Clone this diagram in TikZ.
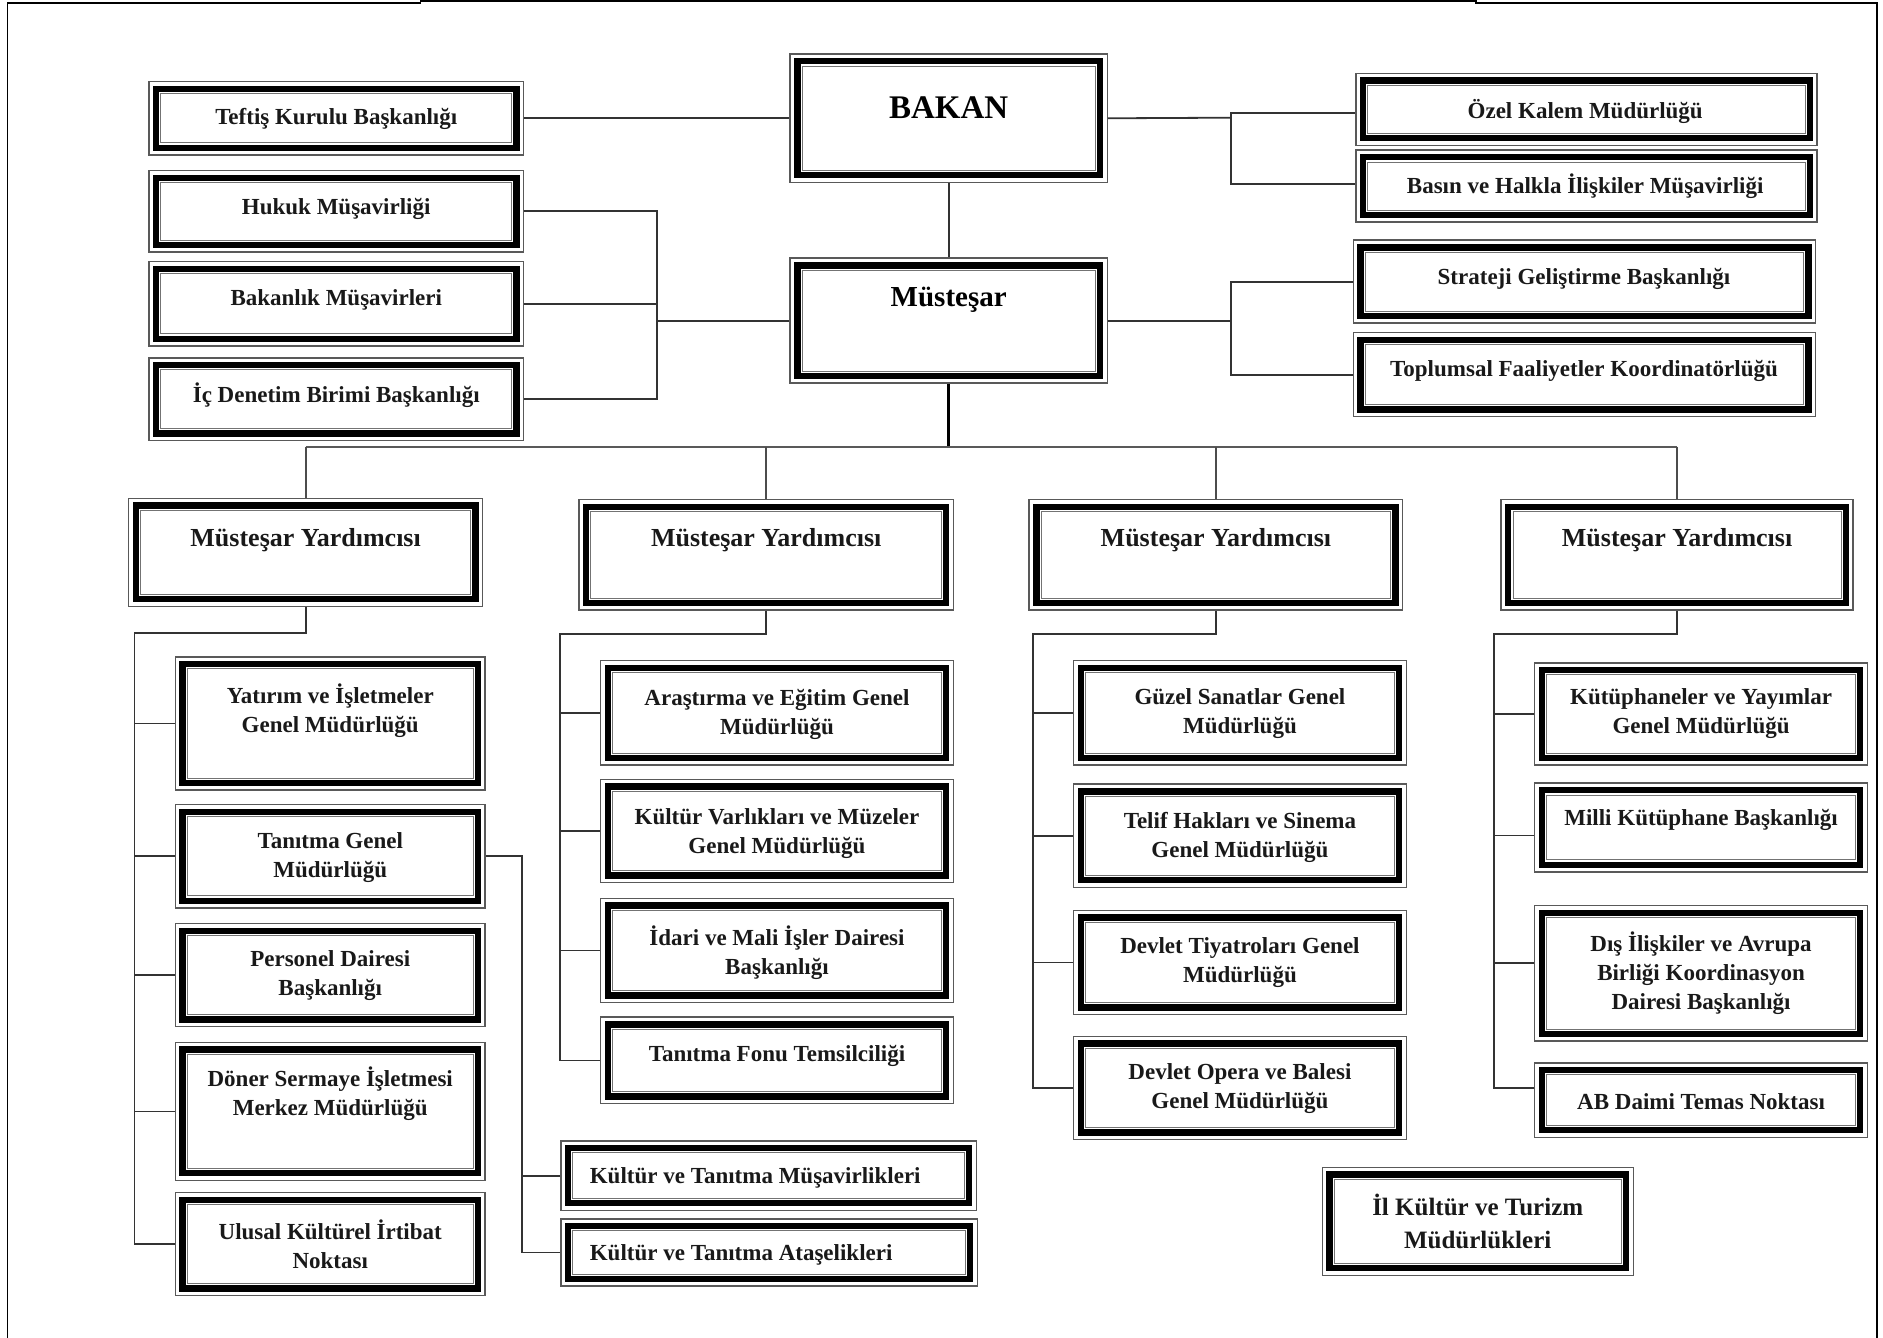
\documentclass[tikz,border=0pt]{standalone}
\usepackage{fontspec}
\setmainfont{Liberation Serif}
\usetikzlibrary{fit,calc}
\tikzset{
  box/.style={rectangle, inner sep=0pt, draw=black!65, line width=1.4pt,
    path picture={
      \draw[line width=6.3pt, black] ([shift={(7.2pt,-7.2pt)}]path picture bounding box.north west) rectangle ([shift={(-7.2pt,7.2pt)}]path picture bounding box.south east);
      \draw[line width=0.9pt, black!55] ([shift={(12pt,-12pt)}]path picture bounding box.north west) rectangle ([shift={(-12pt,12pt)}]path picture bounding box.south east);
    }},
  txt/.style={font=\bfseries\fontsize{23}{29}\selectfont, align=center, inner sep=0pt, text=black!90},
  mytxt/.style={font=\bfseries\fontsize{26}{31}\selectfont, align=center, inner sep=0pt, text=black!90},
  conn/.style={draw=black!80, line width=1.8pt},
  frame/.style={draw=black, line width=1.6pt}
}
\begin{document}
\begin{tikzpicture}[x=1.2009pt,y=-1.2009pt]
\useasboundingbox (0,0) rectangle (1568,1114);
% page frame
\coordinate (f1) at (6.2,1114);
\coordinate (f2) at (6.2,2.3);
\coordinate (f3) at (350,2.3);
\coordinate (f5) at (350,0.7);
\coordinate (f6) at (1229,0.7);
\coordinate (f8) at (1229,2.3);
\coordinate (f9) at (1563,2.3);
\coordinate (f10) at (1563,1114);
\draw[frame] (f1) -- (f2) -- (f3) -- (f5) -- (f6) -- (f8) -- (f9) -- (f10);

% top level
\node[box, fit={(658,45) (922,152)}] (bakan) {};
\node[font=\bfseries\fontsize{33}{38}\selectfont, inner sep=0pt] (bakan-t) at (790,90) {BAKAN};
\node[box, fit={(658,215) (922,319)}] (mus) {};
\node[font=\bfseries\fontsize{29}{34}\selectfont, inner sep=0pt] (mus-t) at (790,250) {Müsteşar};

\node[box, fit={(124,68) (436,129)}] (teftis) {};
\node[txt] (teftis-t) at (280,99) {Teftiş Kurulu Başkanlığı};
\node[box, fit={(124,142) (436,210)}] (hukuk) {};
\node[txt] (hukuk-t) at (280,174) {Hukuk Müşavirliği};
\node[box, fit={(124,218) (436,288)}] (bakm) {};
\node[txt] (bakm-t) at (280,250) {Bakanlık Müşavirleri};
\node[box, fit={(124,298) (436,367)}] (icd) {};
\node[txt] (icd-t) at (280,329) {İç Denetim Birimi Başkanlığı};

\node[box, fit={(1129,61) (1513,121)}] (ozel) {};
\node[txt] (ozel-t) at (1320,93) {Özel Kalem Müdürlüğü};
\node[box, fit={(1129,125) (1513,185)}] (basin) {};
\node[txt] (basin-t) at (1320,155) {Basın ve Halkla İlişkiler Müşavirliği};
\node[box, fit={(1127,200) (1512,269)}] (strat) {};
\node[txt] (strat-t) at (1319,232) {Strateji Geliştirme Başkanlığı};
\node[box, fit={(1127,277) (1512,347)}] (topl) {};
\node[txt] (topl-t) at (1319,309) {Toplumsal Faaliyetler Koordinatörlüğü};

% Müsteşar Yardımcıları
\node[box, fit={(107,415) (402,505)}] (my1) {};
\node[mytxt] (my1-t) at (254.5,450) {Müsteşar Yardımcısı};
\node[box, fit={(482,416) (794,508)}] (my2) {};
\node[mytxt] (my2-t) at (638,450) {Müsteşar Yardımcısı};
\node[box, fit={(857,416) (1168,508)}] (my3) {};
\node[mytxt] (my3-t) at (1012.5,450) {Müsteşar Yardımcısı};
\node[box, fit={(1250,416) (1543,508)}] (my4) {};
\node[mytxt] (my4-t) at (1396.5,450) {Müsteşar Yardımcısı};

% column 1
\node[box, fit={(146,547) (404,658)}] (yat) {};
\node[txt] (yat-t) at (275,592) {Yatırım ve İşletmeler\\Genel Müdürlüğü};
\node[box, fit={(146,670) (404,756)}] (tan) {};
\node[txt] (tan-t) at (275,714) {Tanıtma Genel\\Müdürlüğü};
\node[box, fit={(146,769) (404,855)}] (pers) {};
\node[txt] (pers-t) at (275,812) {Personel Dairesi\\Başkanlığı};
\node[box, fit={(146,868) (404,983)}] (doner) {};
\node[txt] (doner-t) at (275,911) {Döner Sermaye İşletmesi\\Merkez Müdürlüğü};
\node[box, fit={(146,993) (404,1079)}] (ulusal) {};
\node[txt] (ulusal-t) at (275,1036) {Ulusal Kültürel İrtibat\\Noktası};

\node[box, fit={(467,950) (813,1008)}] (kmus) {};
\node[txt, anchor=west] (kmus-t) at (491,981) {Kültür ve Tanıtma Müşavirlikleri};
\node[box, fit={(467,1015) (814,1071)}] (kata) {};
\node[txt, anchor=west] (kata-t) at (491,1045) {Kültür ve Tanıtma Ataşelikleri};

% column 2
\node[box, fit={(500,550) (794,637)}] (ara) {};
\node[txt] (ara-t) at (647,594.5) {Araştırma ve Eğitim Genel\\Müdürlüğü};
\node[box, fit={(500,649) (794,735)}] (kv) {};
\node[txt] (kv-t) at (647,694.5) {Kültür Varlıkları ve Müzeler\\Genel Müdürlüğü};
\node[box, fit={(500,748) (794,835)}] (idari) {};
\node[txt] (idari-t) at (647,793) {İdari ve Mali İşler Dairesi\\Başkanlığı};
\node[box, fit={(500,847) (794,919)}] (tf) {};
\node[txt] (tf-t) at (647,879) {Tanıtma Fonu Temsilciliği};

% column 3
\node[box, fit={(894,550) (1171,637)}] (guzel) {};
\node[txt] (guzel-t) at (1032.5,594.5) {Güzel Sanatlar Genel\\Müdürlüğü};
\node[box, fit={(894,653) (1171,739)}] (telif) {};
\node[txt] (telif-t) at (1032.5,697) {Telif Hakları ve Sinema\\Genel Müdürlüğü};
\node[box, fit={(894,758) (1171,845)}] (tiy) {};
\node[txt] (tiy-t) at (1032.5,801.5) {Devlet Tiyatroları Genel\\Müdürlüğü};
\node[box, fit={(894,863) (1171,949)}] (opera) {};
\node[txt] (opera-t) at (1032.5,906.5) {Devlet Opera ve Balesi\\Genel Müdürlüğü};

% column 4
\node[box, fit={(1278,552) (1555,637)}] (kutup) {};
\node[txt] (kutup-t) at (1416.5,594.5) {Kütüphaneler ve Yayımlar\\Genel Müdürlüğü};
\node[box, fit={(1278,652) (1555,726)}] (milli) {};
\node[txt] (milli-t) at (1416.5,683) {Milli Kütüphane Başkanlığı};
\node[box, fit={(1278,754) (1555,867)}] (dis) {};
\node[txt] (dis-t) at (1416.5,810.5) {Dış İlişkiler ve Avrupa\\Birliği Koordinasyon\\Dairesi Başkanlığı};
\node[box, fit={(1278,885) (1555,947)}] (ab) {};
\node[txt] (ab-t) at (1416.5,917) {AB Daimi Temas Noktası};

% İl
\node[box, fit={(1101,972) (1360,1062)}] (il) {};
\node[font=\bfseries\fontsize{25}{33}\selectfont, align=center, inner sep=0pt, text=black!90] (il-t) at (1230.5,1017) {İl Kültür ve Turizm\\Müdürlükleri};

% connectors: top
\draw[conn] (teftis.east) -- (teftis.east -| bakan.west);
\draw[conn] (bakan.south) -- (mus.north);
\coordinate (rb1) at (1025,98);
\draw[conn] (bakan.east) -- (rb1);
\draw[conn] ([yshift=-3.6pt]ozel.west) -| (rb1) |- ([yshift=2.4pt]basin.west);
\coordinate (rb2) at (1025,267);
\draw[conn] (mus.east) -- (rb2);
\draw[conn] (strat.west) -| (rb2) |- (topl.west);
\coordinate (lb) at (547,267);
\draw[conn] (mus.west) -- (lb);
\draw[conn] (hukuk.east) -| (lb) |- (icd.east);
\draw[conn] (bakm.east) -- (bakm.east -| lb);

% bus
\coordinate (bus) at (790,372);
\draw[draw=black, line width=2.8pt] (mus.south) -- (bus);
\draw[conn, draw=black!65] (my1.north |- bus) -- (my4.north |- bus);
\foreach \m in {my1,my2,my3,my4} \draw[conn, draw=black!70] (\m.north |- bus) -- (\m.north);

% column 1 connectors
\coordinate (c1) at (112,527);
\draw[conn] (my1.south) |- (c1) |- (ulusal.west);
\foreach \n in {yat,tan,pers,doner} \draw[conn] (\n.west) -- (\n.west -| c1);
\coordinate (tb) at (435,713);
\draw[conn] (tan.east) -- (tb) |- (kata.west);
\draw[conn] (kmus.west) -- (kmus.west -| tb);

% column 2
\coordinate (c2) at (466,528);
\draw[conn] (my2.south) |- (c2) |- (tf.west);
\foreach \n in {ara,kv,idari} \draw[conn] (\n.west) -- (\n.west -| c2);

% column 3
\coordinate (c3) at (860,528);
\draw[conn] (my3.south) |- (c3) |- (opera.west);
\foreach \n in {guzel,telif,tiy} \draw[conn] (\n.west) -- (\n.west -| c3);

% column 4
\coordinate (c4) at (1244,528);
\draw[conn] (my4.south) |- (c4) |- ([yshift=12pt]ab.west);
\draw[conn] (kutup.west) -- (kutup.west -| c4);
\draw[conn] ([yshift=-8pt]milli.west) -- ([yshift=-8pt]milli.west -| c4);
\draw[conn] ([yshift=10pt]dis.west) -- ([yshift=10pt]dis.west -| c4);
\end{tikzpicture}
\end{document}
